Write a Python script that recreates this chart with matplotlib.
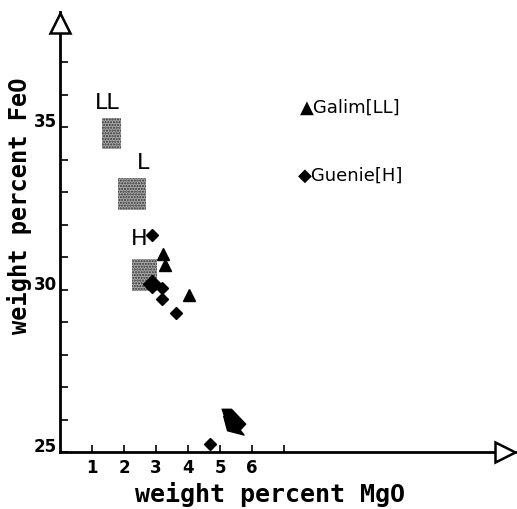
import numpy as np
import matplotlib
matplotlib.use("Agg")
import matplotlib.pyplot as plt
from matplotlib.patches import Rectangle

# Galim (LL) - triangles
galim_mgo = [3.21, 3.27, 4.02]
galim_feo = [31.08, 30.75, 29.83]

# Guenie (H) - diamonds
guenie_mgo = [2.87, 2.88, 3.19, 3.19, 3.63, 4.69]
guenie_feo = [31.68, 30.16, 30.06, 29.71, 29.29, 25.24]

# odd big blob near 5.4 / 25.9
blob_mgo = [5.40]
blob_feo = [25.93]

# chondrite group fields (mgo min, mgo max, feo min, feo max)
groups = ["LL", "L", "H"]
grp_mgo0 = [1.31, 1.81, 2.25]
grp_mgo1 = [1.91, 2.69, 3.02]
grp_feo0 = [34.32, 32.45, 29.96]
grp_feo1 = [35.28, 33.43, 30.93]
grp_lab_mgo = [1.47, 2.59, 2.47]
grp_lab_feo = [35.74, 33.89, 31.55]

xticks = [1, 2, 3, 4, 5, 6, 7]
xticklabels = ["1", "2", "3", "4", "5", "6", ""]
yticks = list(range(25, 38))
yticklabels = [str(v) if v % 5 == 0 else "" for v in yticks]

W, H = 517, 509
fig = plt.figure(figsize=(W / 100, H / 100), dpi=100)
ax = fig.add_axes([60 / W, 57 / H, 455 / W, 440 / H])
ax.set_xlim(0, 455 / 32)
ax.set_ylim(25, 25 + 440 / 32.5)

for s in ["top", "right"]:
    ax.spines[s].set_visible(False)
for s in ["left", "bottom"]:
    ax.spines[s].set_linewidth(2)

# open arrow heads at the axis ends
ax.plot([0], [38.2], marker="^", ms=15, mfc="white", mec="black", mew=1.8,
        clip_on=False, zorder=6)
ax.plot([13.9], [25], marker=">", ms=15, mfc="white", mec="black", mew=1.8,
        clip_on=False, zorder=6)

ax.set_xticks(xticks)
ax.set_xticklabels(xticklabels, fontsize=12, fontweight="bold")
ax.set_yticks(yticks)
ax.set_yticklabels(yticklabels, fontsize=12, fontweight="bold")
ax.tick_params(axis="x", direction="in", length=5, width=1.2, pad=5)
ax.tick_params(axis="y", direction="in", length=6, width=1.2, pad=2)
for t in ax.get_yticklabels():
    t.set_verticalalignment("baseline")

for i, g in enumerate(groups):
    r = Rectangle((grp_mgo0[i], grp_feo0[i]), grp_mgo1[i] - grp_mgo0[i],
                  grp_feo1[i] - grp_feo0[i], facecolor="#a6a6a6",
                  edgecolor="#333333", hatch="......", lw=0, zorder=2)
    ax.add_patch(r)
    ax.text(grp_lab_mgo[i], grp_lab_feo[i], g, fontsize=16,
            family=["Liberation Sans Narrow", "DejaVu Sans"],
            ha="center", va="center", zorder=3)

ax.plot(galim_mgo, galim_feo, "^", color="black", ms=8, zorder=4)
ax.plot(guenie_mgo, guenie_feo, "D", color="black", ms=6, zorder=4)
ax.plot(guenie_mgo[1:2], guenie_feo[1:2], "D", color="black", ms=9, zorder=4)

blob = [(-36, 40), (-6, 40), (37, -5), (20, -23), (32, -38), (-18, -25), (-30, 20)]
ax.plot(blob_mgo, blob_feo, marker=blob, color="black", ms=19, ls="none", zorder=4)

ax.set_xlabel("weight percent MgO", fontsize=18, fontweight="bold",
              family="DejaVu Sans Mono")
ax.set_ylabel("weight percent FeO", fontsize=17, fontweight="bold",
              family="DejaVu Sans Mono")
ax.xaxis.set_label_coords(210 / 455, -30 / 440)
ax.yaxis.set_label_coords(-28 / 455, (452 - 206) / 440)

fig.text(300 / W, 1 - 108 / H, "\u25b2Galim[LL]", fontsize=13, va="center")
fig.text(298 / W, 1 - 176 / H, "\u25c6Guenie[H]", fontsize=13, va="center")

fig.savefig("out.png", dpi=100)
